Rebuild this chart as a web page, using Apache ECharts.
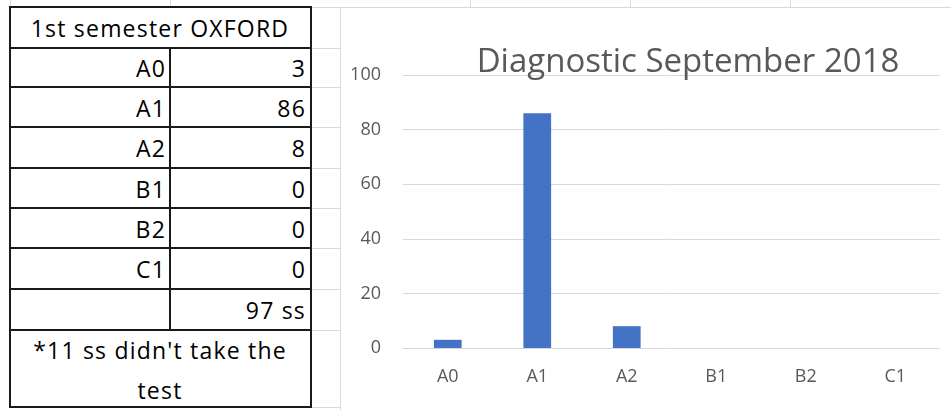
<!DOCTYPE html>
<html>
<head>
<meta charset="utf-8">
<script src="https://cdn.jsdelivr.net/npm/echarts@6/dist/echarts.min.js"></script>
<style>
  html,body{margin:0;padding:0;background:#fff;}
  #page{position:relative;width:951px;height:410px;overflow:hidden;background:#fff;font-family:"Open Sans",Lato,sans-serif;}
  .gl{position:absolute;background:#d9d9d9;}
  .cell{position:absolute;box-sizing:border-box;color:#000;font-size:23px;letter-spacing:1.2px;line-height:1;white-space:nowrap;}
  .bl{position:absolute;background:#1a1a1a;}
  #chart{position:absolute;left:340px;top:7px;width:611px;height:403px;border-left:1px solid #d9d9d9;border-top:1px solid #d9d9d9;box-sizing:border-box;}
</style>
</head>
<body>
<div id="page">
  <div id="grid"></div>
  <div id="table"></div>
  <div id="chart"></div>
</div>
<script>
// ---- data ----
const categories = ['A0', 'A1', 'A2', 'B1', 'B2', 'C1'];
const values = [3, 86, 8, 0, 0, 0];
const tableHeader = '1st semester OXFORD';
const totalLabel = '97 ss';
const noteLines = ["*11 ss didn't take the", 'test'];
const chartTitle = 'Diagnostic September 2018';
const yTicks = [0, 20, 40, 60, 80, 100];

// ---- layout helpers ----
const gridEl = document.getElementById('grid');
const tableEl = document.getElementById('table');
function line(parent, cls, x, y, w, h) {
  const d = document.createElement('div');
  d.className = cls;
  d.style.left = x + 'px'; d.style.top = y + 'px';
  d.style.width = w + 'px'; d.style.height = h + 'px';
  parent.appendChild(d);
}
// spreadsheet background gridlines
[10, 170, 470, 630, 790].forEach(x => line(gridEl, 'gl', x, 0, 1, 7));
const rowEdges = [7, 48, 87, 127, 168, 208, 248, 289, 330, 407];
rowEdges.forEach(y => line(gridEl, 'gl', 311, y, 30, 1));

// table
const L = 10, M = 170, R = 310;
function text(str, x, y, w, h, align, pad) {
  const d = document.createElement('div');
  d.className = 'cell';
  d.style.left = x + 'px'; d.style.top = y + 'px';
  d.style.width = w + 'px'; d.style.height = h + 'px';
  d.style.display = 'flex'; d.style.alignItems = 'center';
  d.style.justifyContent = align;
  d.style.padding = '2px ' + pad + 'px 0 ' + pad + 'px';
  d.textContent = str;
  tableEl.appendChild(d);
}
text(tableHeader, L, rowEdges[0], R - L, rowEdges[1] - rowEdges[0], 'center', 0);
categories.forEach((c, i) => {
  const y0 = rowEdges[i + 1], y1 = rowEdges[i + 2];
  text(c, L, y0, M - L, y1 - y0, 'flex-end', 4);
  text(String(values[i]), M, y0, R - M, y1 - y0, 'flex-end', 4);
});
text(totalLabel, M, rowEdges[7], R - M, rowEdges[8] - rowEdges[7], 'flex-end', 4);
(function () {
  const d = document.createElement('div');
  d.className = 'cell';
  d.style.left = L + 'px'; d.style.top = rowEdges[8] + 'px';
  d.style.width = (R - L) + 'px'; d.style.height = (rowEdges[9] - rowEdges[8]) + 'px';
  d.style.textAlign = 'center'; d.style.lineHeight = '40px';
  d.style.paddingTop = '0px';
  d.innerHTML = noteLines.join('<br>');
  tableEl.appendChild(d);
})();
// borders
rowEdges.forEach(y => line(tableEl, 'bl', L, y - 1, R - L + 2, 2));
line(tableEl, 'bl', L - 1, rowEdges[0] - 1, 2, rowEdges[9] - rowEdges[0] + 2);
line(tableEl, 'bl', R, rowEdges[0] - 1, 2, rowEdges[9] - rowEdges[0] + 2);
line(tableEl, 'bl', M - 1, rowEdges[1], 2, rowEdges[8] - rowEdges[1]);

// ---- chart ----
const chart = echarts.init(document.getElementById('chart'), null, {renderer: 'canvas'});
chart.setOption({
  animation: false,
  title: {
    text: chartTitle,
    left: 342, top: 33, textAlign: 'center',
    textStyle: {fontFamily: 'Open Sans', fontWeight: 'normal', fontSize: 33, color: '#595959'}
  },
  grid: {left: 62, right: 11, top: 67, bottom: 62},
  xAxis: {
    type: 'category',
    data: categories,
    axisLine: {show: true, lineStyle: {color: '#d9d9d9', width: 1}},
    axisTick: {show: false},
    axisLabel: {color: '#595959', fontFamily: 'Open Sans', fontSize: 18, margin: 20}
  },
  yAxis: {
    type: 'value',
    min: yTicks[0], max: yTicks[yTicks.length - 1], interval: yTicks[1] - yTicks[0],
    axisLine: {show: false},
    axisTick: {show: false},
    splitLine: {lineStyle: {color: '#d9d9d9', width: 1}},
    axisLabel: {color: '#595959', fontFamily: 'Open Sans', fontSize: 18, margin: 22}
  },
  series: [{
    type: 'bar',
    data: values,
    barCategoryGap: '69%',
    itemStyle: {color: '#4472C4'}
  }]
});
</script>
</body>
</html>
